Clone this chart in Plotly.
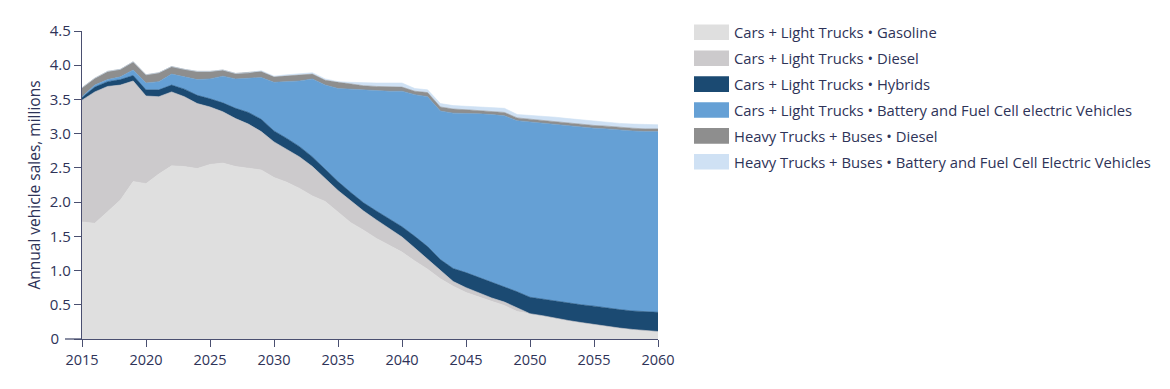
import plotly.graph_objects as go

years = list(range(2015, 2061))

gasoline = [1.71, 1.69, 1.86, 2.03, 2.30, 2.27, 2.41, 2.53, 2.52, 2.49,
            2.55, 2.57, 2.52, 2.50, 2.47, 2.36, 2.29, 2.20, 2.09, 2.01,
            1.85, 1.70, 1.59, 1.47, 1.37, 1.27, 1.14, 1.02, 0.88, 0.77,
            0.68, 0.61, 0.55, 0.49, 0.40, 0.37, 0.34, 0.30, 0.27, 0.24,
            0.21, 0.18, 0.16, 0.14, 0.12, 0.11]
diesel = [1.78, 1.92, 1.83, 1.68, 1.47, 1.28, 1.13, 1.08, 1.02, 0.95,
          0.84, 0.75, 0.70, 0.64, 0.56, 0.52, 0.48, 0.46, 0.43, 0.34,
          0.32, 0.32, 0.28, 0.27, 0.24, 0.22, 0.19, 0.15, 0.12, 0.07,
          0.07, 0.06, 0.05, 0.05, 0.05, 0, 0, 0, 0, 0,
          0, 0, 0, 0, 0, 0]
hybrids = [0.04, 0.07, 0.07, 0.08, 0.08, 0.09, 0.10, 0.10, 0.11, 0.12,
           0.12, 0.13, 0.15, 0.17, 0.18, 0.16, 0.16, 0.15, 0.14, 0.13,
           0.13, 0.12, 0.12, 0.13, 0.14, 0.15, 0.17, 0.18, 0.16, 0.19,
           0.22, 0.23, 0.23, 0.23, 0.24, 0.24, 0.24, 0.26, 0.26, 0.26,
           0.27, 0.27, 0.27, 0.27, 0.28, 0.28]
bev = [0.01, 0.03, 0.03, 0.04, 0.08, 0.10, 0.12, 0.16, 0.18, 0.23,
       0.29, 0.39, 0.43, 0.50, 0.61, 0.71, 0.83, 0.96, 1.14, 1.23,
       1.36, 1.51, 1.64, 1.75, 1.87, 1.98, 2.07, 2.19, 2.17, 2.27,
       2.33, 2.39, 2.45, 2.49, 2.50, 2.56, 2.58, 2.58, 2.59, 2.60,
       2.60, 2.62, 2.62, 2.63, 2.63, 2.64]
ht_diesel = [0.13, 0.10, 0.12, 0.11, 0.12, 0.12, 0.13, 0.11, 0.11, 0.12,
             0.11, 0.09, 0.08, 0.08, 0.09, 0.08, 0.08, 0.09, 0.07, 0.07,
             0.09, 0.08, 0.07, 0.07, 0.07, 0.06, 0.05, 0.06, 0.06, 0.06,
             0.05, 0.05, 0.05, 0.05, 0.04, 0.04, 0.04, 0.04, 0.04, 0.04,
             0.04, 0.04, 0.04, 0.04, 0.04, 0.04]
ht_bev = [0, 0, 0, 0, 0, 0, 0, 0, 0, 0,
          0, 0, 0, 0, 0.01, 0.01, 0.02, 0.01, 0.02, 0.02,
          0.01, 0.02, 0.04, 0.05, 0.05, 0.06, 0.04, 0.04, 0.05, 0.05,
          0.05, 0.05, 0.05, 0.06, 0.05, 0.06, 0.06, 0.06, 0.06, 0.06,
          0.06, 0.06, 0.06, 0.06, 0.06, 0.06]

series_names = [
    "Cars + Light Trucks • Gasoline",
    "Cars + Light Trucks • Diesel",
    "Cars + Light Trucks • Hybrids",
    "Cars + Light Trucks • Battery and Fuel Cell electric Vehicles",
    "Heavy Trucks + Buses • Diesel",
    "Heavy Trucks + Buses • Battery and Fuel Cell Electric Vehicles",
]
series_values = [gasoline, diesel, hybrids, bev, ht_diesel, ht_bev]
colors = ["#dfdfdf", "#cccacc", "#1b4a72", "#65a0d5", "#8e8e8e", "#cfe1f4"]

y_tickvals = [0, 0.5, 1.0, 1.5, 2.0, 2.5, 3.0, 3.5, 4.0, 4.5]
y_ticktext = ["0\u00a0\u00a0\u00a0", "0.5", "1.0", "1.5", "2.0", "2.5", "3.0", "3.5", "4.0", "4.5"]
x_tickvals = [2015, 2020, 2025, 2030, 2035, 2040, 2045, 2050, 2055, 2060]

TEXT = "#2e3358"
AXIS = "#4a4f70"
FONT = "Open Sans, Roboto, sans-serif"

OFF = 8  # page body margin
W, H = 1162, 381
ML, MT = 82 - OFF, 31 - OFF
PW, PH = 576, 308
MR, MB = W - ML - PW, H - MT - PH

fig = go.Figure()
for name, vals, col in zip(series_names, series_values, colors):
    fig.add_trace(go.Scatter(
        x=years, y=vals, name=name, mode="lines",
        stackgroup="one", fillcolor=col,
        line=dict(width=0.6, color=col),
        showlegend=False, hoverinfo="skip",
    ))

def px_x(p):
    return (p - OFF - ML) / PW

def px_y(p):
    return (MT + PH - (p - OFF)) / PH

shapes = []
annotations = []
row0 = 32.3
row_gap = 25.9
for i, (name, col) in enumerate(zip(series_names, colors)):
    cy = row0 + i * row_gap
    shapes.append(dict(type="rect", xref="paper", yref="paper",
                       x0=px_x(694), x1=px_x(729), y0=px_y(cy + 7.8), y1=px_y(cy - 7.8),
                       fillcolor=col, line=dict(width=0)))
    annotations.append(dict(xref="paper", yref="paper", x=px_x(732), y=px_y(cy),
                            xanchor="left", yanchor="middle", text=name, showarrow=False,
                            font=dict(family=FONT, size=14.8, color=TEXT)))

# extension of the baseline to the left of the y axis
shapes.append(dict(type="line", xref="paper", yref="paper",
                   x0=px_x(65), x1=0, y0=0, y1=0, line=dict(color=AXIS, width=1.3)))

fig.update_layout(
    width=W, height=H,
    margin=dict(l=ML, r=MR, t=MT, b=MB),
    paper_bgcolor="white", plot_bgcolor="white",
    font=dict(family=FONT, size=14, color=TEXT),
    shapes=shapes, annotations=annotations,
    showlegend=False,
)
fig.update_xaxes(
    range=[2015, 2060], tickvals=x_tickvals, showgrid=False, zeroline=False,
    showline=True, linecolor=AXIS, linewidth=1.3,
    ticks="outside", ticklen=7, tickcolor=AXIS, tickwidth=1.3,
    tickfont=dict(family=FONT, size=14.5, color=TEXT),
)
fig.update_yaxes(
    range=[0, 4.5], tickvals=y_tickvals, ticktext=y_ticktext, showgrid=False,
    zeroline=False, showline=True, linecolor=AXIS, linewidth=1.3,
    ticks="outside", ticklen=7, tickcolor=AXIS, tickwidth=1.3,
    tickfont=dict(family=FONT, size=15, color=TEXT),
    title=dict(text="Annual vehicle sales, millions", standoff=5,
               font=dict(family=FONT, size=15.5, color=TEXT)),
)

fig.write_html("out.html")
